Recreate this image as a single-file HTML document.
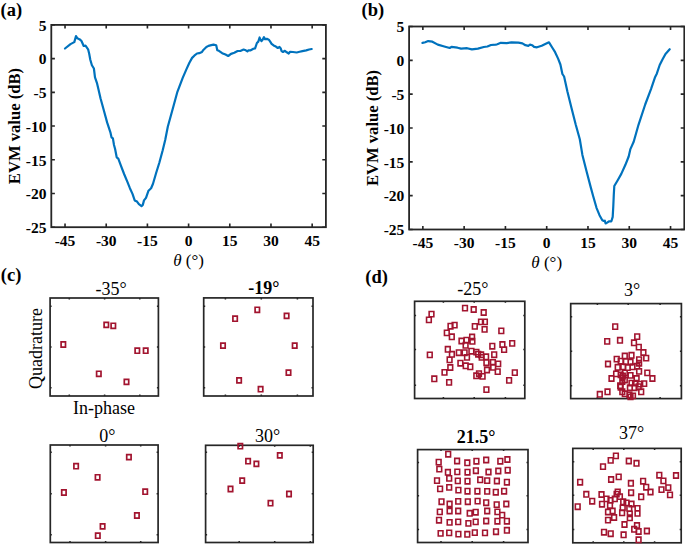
<!DOCTYPE html>
<html><head><meta charset="utf-8"><style>
html,body{margin:0;padding:0;background:#fff;}
body{width:685px;height:545px;overflow:hidden;}
svg{display:block;}
text{font-family:"Liberation Serif",serif;fill:#000;}
.tk{font-size:15.5px;font-weight:bold;}
.yl{font-size:16.6px;font-weight:bold;}
.xl{font-size:17px;}
.pl{font-size:18.5px;font-weight:bold;}
.tt{font-size:18px;}
.ttb{font-size:18px;font-weight:bold;}
</style></head><body>
<svg width="685" height="545" viewBox="0 0 685 545">
<rect x="51.3" y="24.9" width="274.60" height="202.30" fill="none" stroke="#262626" stroke-width="1.8"/><path d="M65.03 227.20v-3.6M65.03 24.90v3.6M106.22 227.20v-3.6M106.22 24.90v3.6M147.41 227.20v-3.6M147.41 24.90v3.6M188.60 227.20v-3.6M188.60 24.90v3.6M229.79 227.20v-3.6M229.79 24.90v3.6M270.98 227.20v-3.6M270.98 24.90v3.6M312.17 227.20v-3.6M312.17 24.90v3.6M51.30 227.20h3.6M325.90 227.20h-3.6M51.30 193.48h3.6M325.90 193.48h-3.6M51.30 159.77h3.6M325.90 159.77h-3.6M51.30 126.05h3.6M325.90 126.05h-3.6M51.30 92.33h3.6M325.90 92.33h-3.6M51.30 58.62h3.6M325.90 58.62h-3.6M51.30 24.90h3.6M325.90 24.90h-3.6" stroke="#262626" stroke-width="1.62" fill="none"/><text x="65.03" y="246.10" class="tk" text-anchor="middle">-45</text><text x="106.22" y="246.10" class="tk" text-anchor="middle">-30</text><text x="147.41" y="246.10" class="tk" text-anchor="middle">-15</text><text x="188.60" y="246.10" class="tk" text-anchor="middle">0</text><text x="229.79" y="246.10" class="tk" text-anchor="middle">15</text><text x="270.98" y="246.10" class="tk" text-anchor="middle">30</text><text x="312.17" y="246.10" class="tk" text-anchor="middle">45</text><text x="46.50" y="233.00" class="tk" text-anchor="end">-25</text><text x="46.50" y="199.28" class="tk" text-anchor="end">-20</text><text x="46.50" y="165.57" class="tk" text-anchor="end">-15</text><text x="46.50" y="131.85" class="tk" text-anchor="end">-10</text><text x="46.50" y="98.13" class="tk" text-anchor="end">-5</text><text x="46.50" y="64.42" class="tk" text-anchor="end">0</text><text x="46.50" y="30.70" class="tk" text-anchor="end">5</text><path d="M65.0 48.5 L70.5 44.1 L74.3 42.1 L76.0 36.1 L77.4 38.3 L79.8 39.4 L81.5 41.0 L83.7 46.0 L85.5 45.6 L88.1 49.3 L89.2 53.7 L90.3 59.7 L91.9 65.2 L93.9 68.5 L95.0 77.3 L96.9 82.8 L98.5 89.5 L100.5 98.2 L103.8 110.3 L107.1 122.4 L110.4 132.3 L111.5 137.3 L112.9 138.4 L114.0 145.0 L115.1 149.0 L116.7 157.3 L118.3 158.6 L120.9 165.7 L124.1 174.0 L127.3 181.7 L129.9 188.2 L132.5 193.9 L134.7 200.4 L137.0 201.6 L138.9 204.2 L141.5 206.1 L142.8 204.9 L144.0 200.4 L146.0 197.8 L148.5 190.7 L151.1 188.2 L153.0 183.7 L156.2 172.8 L159.4 162.5 L162.7 150.3 L165.2 140.0 L167.8 126.7 L173.1 107.5 L177.4 91.8 L182.7 77.9 L186.6 68.9 L189.4 62.8 L192.1 57.9 L194.3 55.7 L197.0 53.5 L199.2 53.2 L202.0 51.9 L203.6 49.7 L206.4 47.0 L208.5 45.9 L211.3 45.1 L213.5 44.6 L216.2 45.3 L217.3 50.3 L218.9 50.8 L222.2 53.2 L225.5 54.6 L228.2 56.0 L231.0 53.9 L234.3 52.8 L237.6 51.0 L240.3 51.0 L243.6 49.5 L245.8 50.3 L247.4 51.4 L248.5 50.3 L250.7 50.3 L253.4 48.8 L255.1 48.4 L256.9 43.0 L258.3 41.6 L259.6 37.5 L260.2 39.2 L261.5 41.1 L262.6 39.7 L264.0 37.1 L265.0 39.2 L266.9 38.8 L268.8 39.7 L270.2 41.6 L271.6 43.8 L274.0 45.7 L275.9 46.6 L277.8 48.0 L279.5 47.0 L280.6 48.2 L281.6 51.1 L283.0 52.0 L284.9 50.8 L286.8 52.3 L288.7 53.5 L290.1 51.8 L293.0 52.0 L296.7 52.5 L299.6 51.8 L302.4 51.1 L306.2 50.4 L309.1 49.5 L311.7 49.0" stroke="#0072BD" stroke-width="2.2" fill="none" stroke-linejoin="round" stroke-linecap="round"/><text class="yl" transform="translate(20.20 126.05) rotate(-90)" text-anchor="middle">EVM value (dB)</text><text class="xl" x="188.60" y="265.80" text-anchor="middle"><tspan font-style="italic">θ</tspan> (°)</text><text class="pl" x="0.5" y="16">(a)</text>
<rect x="409.1" y="26.5" width="275.20" height="203.00" fill="none" stroke="#262626" stroke-width="1.8"/><path d="M422.86 229.50v-3.6M422.86 26.50v3.6M464.14 229.50v-3.6M464.14 26.50v3.6M505.42 229.50v-3.6M505.42 26.50v3.6M546.70 229.50v-3.6M546.70 26.50v3.6M587.98 229.50v-3.6M587.98 26.50v3.6M629.26 229.50v-3.6M629.26 26.50v3.6M670.54 229.50v-3.6M670.54 26.50v3.6M409.10 229.50h3.6M684.30 229.50h-3.6M409.10 195.67h3.6M684.30 195.67h-3.6M409.10 161.83h3.6M684.30 161.83h-3.6M409.10 128.00h3.6M684.30 128.00h-3.6M409.10 94.17h3.6M684.30 94.17h-3.6M409.10 60.33h3.6M684.30 60.33h-3.6M409.10 26.50h3.6M684.30 26.50h-3.6" stroke="#262626" stroke-width="1.62" fill="none"/><text x="422.86" y="248.40" class="tk" text-anchor="middle">-45</text><text x="464.14" y="248.40" class="tk" text-anchor="middle">-30</text><text x="505.42" y="248.40" class="tk" text-anchor="middle">-15</text><text x="546.70" y="248.40" class="tk" text-anchor="middle">0</text><text x="587.98" y="248.40" class="tk" text-anchor="middle">15</text><text x="629.26" y="248.40" class="tk" text-anchor="middle">30</text><text x="670.54" y="248.40" class="tk" text-anchor="middle">45</text><text x="404.30" y="235.30" class="tk" text-anchor="end">-25</text><text x="404.30" y="201.47" class="tk" text-anchor="end">-20</text><text x="404.30" y="167.63" class="tk" text-anchor="end">-15</text><text x="404.30" y="133.80" class="tk" text-anchor="end">-10</text><text x="404.30" y="99.97" class="tk" text-anchor="end">-5</text><text x="404.30" y="66.13" class="tk" text-anchor="end">0</text><text x="404.30" y="32.30" class="tk" text-anchor="end">5</text><path d="M422.5 42.9 L425.2 42.3 L428.2 41.1 L432.4 41.7 L437.8 44.6 L444.3 46.5 L449.7 48.0 L451.5 46.8 L457.5 47.7 L461.1 48.6 L467.1 48.2 L471.9 49.4 L477.9 48.6 L483.8 47.0 L487.4 46.5 L491.0 45.0 L495.8 44.6 L497.3 44.2 L500.8 42.8 L506.7 43.1 L511.4 42.4 L518.4 42.6 L522.4 43.4 L525.4 45.2 L528.3 45.8 L530.0 44.6 L532.1 45.2 L534.1 46.9 L537.0 47.3 L541.7 45.8 L545.8 43.8 L549.0 42.3 L552.2 47.5 L555.1 52.2 L558.1 58.6 L560.4 64.5 L562.4 74.0 L564.1 76.5 L567.4 91.4 L571.5 107.9 L575.7 124.5 L579.8 139.3 L582.4 154.9 L586.6 171.4 L590.7 187.1 L593.2 196.2 L596.5 207.8 L599.5 215.2 L602.3 220.2 L603.9 221.0 L604.8 220.7 L605.6 223.5 L607.2 222.6 L608.9 221.3 L611.4 221.3 L612.7 216.9 L613.3 206.1 L613.8 194.5 L614.3 186.0 L618.0 179.7 L621.3 173.9 L625.4 164.8 L628.7 156.5 L630.4 149.1 L633.7 141.7 L638.5 124.8 L645.2 104.5 L651.0 89.1 L654.9 77.6 L656.8 73.7 L659.7 65.0 L662.6 59.3 L665.5 53.9 L669.7 49.2" stroke="#0072BD" stroke-width="2.2" fill="none" stroke-linejoin="round" stroke-linecap="round"/><text class="yl" transform="translate(378.00 128.00) rotate(-90)" text-anchor="middle">EVM value (dB)</text><text class="xl" x="546.70" y="267.80" text-anchor="middle"><tspan font-style="italic">θ</tspan> (°)</text><text class="pl" x="361.5" y="16">(b)</text>
<rect x="50.1" y="298.0" width="108.30" height="98.00" fill="none" stroke="#262626" stroke-width="1.7"/><path d="M69.30 396.00v-1.5M69.30 298.00v1.5M104.60 396.00v-1.5M104.60 298.00v1.5M139.80 396.00v-1.5M139.80 298.00v1.5M50.10 306.30h1.5M158.40 306.30h-1.5M50.10 347.10h1.5M158.40 347.10h-1.5M50.10 387.80h1.5M158.40 387.80h-1.5" stroke="#262626" stroke-width="1.53" fill="none"/>
<rect x="203.7" y="297.9" width="109.30" height="98.10" fill="none" stroke="#262626" stroke-width="1.7"/><path d="M225.40 396.00v-1.5M225.40 297.90v1.5M261.30 396.00v-1.5M261.30 297.90v1.5M297.40 396.00v-1.5M297.40 297.90v1.5M203.70 306.30h1.5M313.00 306.30h-1.5M203.70 347.10h1.5M313.00 347.10h-1.5M203.70 387.80h1.5M313.00 387.80h-1.5" stroke="#262626" stroke-width="1.53" fill="none"/>
<rect x="50.3" y="445.0" width="107.80" height="97.50" fill="none" stroke="#262626" stroke-width="1.7"/><path d="M70.00 542.50v-1.5M70.00 445.00v1.5M105.60 542.50v-1.5M105.60 445.00v1.5M140.70 542.50v-1.5M140.70 445.00v1.5M50.30 452.30h1.5M158.10 452.30h-1.5M50.30 493.70h1.5M158.10 493.70h-1.5M50.30 534.80h1.5M158.10 534.80h-1.5" stroke="#262626" stroke-width="1.53" fill="none"/>
<rect x="205.6" y="445.3" width="107.60" height="97.20" fill="none" stroke="#262626" stroke-width="1.7"/><path d="M239.20 542.50v-1.5M239.20 445.30v1.5M274.70 542.50v-1.5M274.70 445.30v1.5M310.30 542.50v-1.5M310.30 445.30v1.5M205.60 452.30h1.5M313.20 452.30h-1.5M205.60 493.70h1.5M313.20 493.70h-1.5M205.60 534.80h1.5M313.20 534.80h-1.5" stroke="#262626" stroke-width="1.53" fill="none"/>
<rect x="414.6" y="301.3" width="110.20" height="97.20" fill="none" stroke="#262626" stroke-width="1.7"/><path d="M443.40 398.50v-1.5M443.40 301.30v1.5M474.20 398.50v-1.5M474.20 301.30v1.5M505.40 398.50v-1.5M505.40 301.30v1.5M414.60 315.50h1.5M524.80 315.50h-1.5M414.60 349.50h1.5M524.80 349.50h-1.5M414.60 385.20h1.5M524.80 385.20h-1.5" stroke="#262626" stroke-width="1.53" fill="none"/>
<rect x="570.7" y="303.6" width="110.70" height="95.00" fill="none" stroke="#262626" stroke-width="1.7"/><path d="M597.40 398.60v-1.5M597.40 303.60v1.5M628.20 398.60v-1.5M628.20 303.60v1.5M660.10 398.60v-1.5M660.10 303.60v1.5M570.70 316.80h1.5M681.40 316.80h-1.5M570.70 351.20h1.5M681.40 351.20h-1.5M570.70 385.70h1.5M681.40 385.70h-1.5" stroke="#262626" stroke-width="1.53" fill="none"/>
<rect x="417.6" y="449.6" width="110.40" height="92.90" fill="none" stroke="#262626" stroke-width="1.7"/><path d="M441.00 542.50v-1.5M441.00 449.60v1.5M472.20 542.50v-1.5M472.20 449.60v1.5M503.60 542.50v-1.5M503.60 449.60v1.5M417.60 462.40h1.5M528.00 462.40h-1.5M417.60 495.70h1.5M528.00 495.70h-1.5M417.60 529.60h1.5M528.00 529.60h-1.5" stroke="#262626" stroke-width="1.53" fill="none"/>
<rect x="572.8" y="448.4" width="108.40" height="94.40" fill="none" stroke="#262626" stroke-width="1.7"/><path d="M593.20 542.80v-1.5M593.20 448.40v1.5M623.80 542.80v-1.5M623.80 448.40v1.5M654.60 542.80v-1.5M654.60 448.40v1.5M572.80 461.80h1.5M681.20 461.80h-1.5M572.80 495.20h1.5M681.20 495.20h-1.5M572.80 529.60h1.5M681.20 529.60h-1.5" stroke="#262626" stroke-width="1.53" fill="none"/>
<path d="M104.10 322.35h4.4v5.1h-4.4zM111.10 323.25h4.4v5.1h-4.4zM61.10 341.95h4.4v5.1h-4.4zM135.10 348.15h4.4v5.1h-4.4zM143.50 348.15h4.4v5.1h-4.4zM96.60 371.25h4.4v5.1h-4.4zM124.30 379.35h4.4v5.1h-4.4z" fill="none" stroke="#A2142F" stroke-width="1.7"/>
<path d="M255.10 307.25h4.4v5.1h-4.4zM232.90 316.15h4.4v5.1h-4.4zM284.40 313.35h4.4v5.1h-4.4zM220.80 343.05h4.4v5.1h-4.4zM292.50 343.05h4.4v5.1h-4.4zM286.30 370.05h4.4v5.1h-4.4zM236.90 377.85h4.4v5.1h-4.4zM258.40 386.65h4.4v5.1h-4.4z" fill="none" stroke="#A2142F" stroke-width="1.7"/>
<path d="M126.70 454.55h4.4v5.1h-4.4zM73.90 463.65h4.4v5.1h-4.4zM95.40 474.75h4.4v5.1h-4.4zM61.70 489.95h4.4v5.1h-4.4zM143.00 489.15h4.4v5.1h-4.4zM134.70 512.95h4.4v5.1h-4.4zM100.40 523.85h4.4v5.1h-4.4zM95.60 533.15h4.4v5.1h-4.4z" fill="none" stroke="#A2142F" stroke-width="1.7"/>
<path d="M238.10 443.65h4.4v5.1h-4.4zM277.60 452.85h4.4v5.1h-4.4zM245.90 458.65h4.4v5.1h-4.4zM254.20 461.35h4.4v5.1h-4.4zM240.00 478.05h4.4v5.1h-4.4zM228.30 486.45h4.4v5.1h-4.4zM286.80 491.45h4.4v5.1h-4.4zM268.30 500.65h4.4v5.1h-4.4z" fill="none" stroke="#A2142F" stroke-width="1.7"/>
<path d="M462.65 305.45h4.7v5.3h-4.7zM429.15 311.45h4.7v5.3h-4.7zM426.55 317.25h4.7v5.3h-4.7zM448.15 323.55h4.7v5.3h-4.7zM452.25 322.45h4.7v5.3h-4.7zM444.45 330.25h4.7v5.3h-4.7zM449.45 334.15h4.7v5.3h-4.7zM459.15 338.35h4.7v5.3h-4.7zM464.15 337.55h4.7v5.3h-4.7zM463.25 342.65h4.7v5.3h-4.7zM471.35 306.85h4.7v5.3h-4.7zM481.35 309.85h4.7v5.3h-4.7zM478.65 319.25h4.7v5.3h-4.7zM482.55 319.25h4.7v5.3h-4.7zM472.45 323.75h4.7v5.3h-4.7zM482.25 326.75h4.7v5.3h-4.7zM498.95 328.25h4.7v5.3h-4.7zM469.75 334.35h4.7v5.3h-4.7zM470.05 338.65h4.7v5.3h-4.7zM489.95 343.55h4.7v5.3h-4.7zM500.05 341.85h4.7v5.3h-4.7zM509.85 340.75h4.7v5.3h-4.7zM501.75 346.95h4.7v5.3h-4.7zM427.45 352.25h4.7v5.3h-4.7zM445.45 346.65h4.7v5.3h-4.7zM449.55 351.65h4.7v5.3h-4.7zM447.25 357.15h4.7v5.3h-4.7zM447.95 364.85h4.7v5.3h-4.7zM442.15 369.75h4.7v5.3h-4.7zM431.95 376.15h4.7v5.3h-4.7zM446.75 379.75h4.7v5.3h-4.7zM456.45 350.05h4.7v5.3h-4.7zM462.25 350.05h4.7v5.3h-4.7zM464.65 354.75h4.7v5.3h-4.7zM458.05 360.55h4.7v5.3h-4.7zM463.35 363.15h4.7v5.3h-4.7zM469.05 348.55h4.7v5.3h-4.7zM474.05 349.45h4.7v5.3h-4.7zM475.85 351.55h4.7v5.3h-4.7zM478.75 352.15h4.7v5.3h-4.7zM479.35 354.75h4.7v5.3h-4.7zM483.75 354.15h4.7v5.3h-4.7zM491.85 352.05h4.7v5.3h-4.7zM484.05 360.05h4.7v5.3h-4.7zM490.55 359.75h4.7v5.3h-4.7zM495.85 361.25h4.7v5.3h-4.7zM490.85 364.65h4.7v5.3h-4.7zM484.65 367.35h4.7v5.3h-4.7zM495.35 368.95h4.7v5.3h-4.7zM467.95 364.15h4.7v5.3h-4.7zM473.95 373.15h4.7v5.3h-4.7zM476.65 371.05h4.7v5.3h-4.7zM480.25 373.75h4.7v5.3h-4.7zM512.45 369.95h4.7v5.3h-4.7zM506.75 377.75h4.7v5.3h-4.7zM484.05 386.95h4.7v5.3h-4.7z" fill="none" stroke="#A2142F" stroke-width="1.6"/>
<path d="M612.85 323.95h4.7v5.3h-4.7zM604.85 338.75h4.7v5.3h-4.7zM617.65 337.65h4.7v5.3h-4.7zM634.85 333.95h4.7v5.3h-4.7zM631.65 340.15h4.7v5.3h-4.7zM636.45 344.45h4.7v5.3h-4.7zM641.05 349.85h4.7v5.3h-4.7zM643.85 355.45h4.7v5.3h-4.7zM605.65 361.35h4.7v5.3h-4.7zM614.35 356.45h4.7v5.3h-4.7zM622.45 353.35h4.7v5.3h-4.7zM629.15 352.65h4.7v5.3h-4.7zM618.35 358.45h4.7v5.3h-4.7zM623.55 359.05h4.7v5.3h-4.7zM628.15 359.55h4.7v5.3h-4.7zM636.75 356.95h4.7v5.3h-4.7zM636.75 360.55h4.7v5.3h-4.7zM615.35 364.65h4.7v5.3h-4.7zM620.95 364.15h4.7v5.3h-4.7zM625.35 364.95h4.7v5.3h-4.7zM630.15 364.15h4.7v5.3h-4.7zM634.75 363.65h4.7v5.3h-4.7zM636.75 368.75h4.7v5.3h-4.7zM644.95 370.25h4.7v5.3h-4.7zM650.05 375.85h4.7v5.3h-4.7zM613.75 371.25h4.7v5.3h-4.7zM618.35 372.25h4.7v5.3h-4.7zM622.45 370.25h4.7v5.3h-4.7zM628.15 372.75h4.7v5.3h-4.7zM609.15 375.85h4.7v5.3h-4.7zM619.95 375.35h4.7v5.3h-4.7zM622.45 377.35h4.7v5.3h-4.7zM619.95 378.95h4.7v5.3h-4.7zM634.25 375.85h4.7v5.3h-4.7zM629.15 380.45h4.7v5.3h-4.7zM632.75 380.45h4.7v5.3h-4.7zM637.85 381.45h4.7v5.3h-4.7zM641.85 380.95h4.7v5.3h-4.7zM618.35 384.55h4.7v5.3h-4.7zM627.55 385.05h4.7v5.3h-4.7zM632.15 385.05h4.7v5.3h-4.7zM636.25 384.05h4.7v5.3h-4.7zM638.85 389.15h4.7v5.3h-4.7zM619.95 389.15h4.7v5.3h-4.7zM622.45 391.15h4.7v5.3h-4.7zM627.05 392.25h4.7v5.3h-4.7zM630.65 393.25h4.7v5.3h-4.7zM628.15 394.25h4.7v5.3h-4.7zM605.15 389.15h4.7v5.3h-4.7zM597.45 391.65h4.7v5.3h-4.7zM620.45 373.35h4.7v5.3h-4.7zM617.85 383.05h4.7v5.3h-4.7z" fill="none" stroke="#A2142F" stroke-width="1.6"/>
<path d="M445.85 451.55h4.7v5.3h-4.7zM436.35 459.45h4.7v5.3h-4.7zM454.75 458.35h4.7v5.3h-4.7zM464.95 460.15h4.7v5.3h-4.7zM474.05 458.55h4.7v5.3h-4.7zM483.85 457.35h4.7v5.3h-4.7zM497.95 458.55h4.7v5.3h-4.7zM505.05 456.85h4.7v5.3h-4.7zM436.95 466.45h4.7v5.3h-4.7zM445.55 469.65h4.7v5.3h-4.7zM454.95 469.25h4.7v5.3h-4.7zM465.15 469.55h4.7v5.3h-4.7zM473.55 468.05h4.7v5.3h-4.7zM486.15 469.35h4.7v5.3h-4.7zM495.95 468.35h4.7v5.3h-4.7zM505.35 467.55h4.7v5.3h-4.7zM434.65 477.95h4.7v5.3h-4.7zM446.85 475.75h4.7v5.3h-4.7zM455.45 478.25h4.7v5.3h-4.7zM465.15 478.55h4.7v5.3h-4.7zM477.85 477.15h4.7v5.3h-4.7zM484.85 477.95h4.7v5.3h-4.7zM494.55 478.35h4.7v5.3h-4.7zM504.55 479.55h4.7v5.3h-4.7zM437.75 486.25h4.7v5.3h-4.7zM446.85 484.75h4.7v5.3h-4.7zM456.05 487.45h4.7v5.3h-4.7zM465.15 488.55h4.7v5.3h-4.7zM475.05 488.55h4.7v5.3h-4.7zM484.85 488.75h4.7v5.3h-4.7zM493.45 489.55h4.7v5.3h-4.7zM501.75 488.55h4.7v5.3h-4.7zM439.15 499.05h4.7v5.3h-4.7zM447.25 501.35h4.7v5.3h-4.7zM455.85 498.75h4.7v5.3h-4.7zM465.45 499.05h4.7v5.3h-4.7zM475.25 498.45h4.7v5.3h-4.7zM483.85 500.05h4.7v5.3h-4.7zM494.35 501.95h4.7v5.3h-4.7zM503.95 501.35h4.7v5.3h-4.7zM437.45 509.25h4.7v5.3h-4.7zM447.25 508.35h4.7v5.3h-4.7zM455.85 508.35h4.7v5.3h-4.7zM467.35 510.65h4.7v5.3h-4.7zM473.35 509.55h4.7v5.3h-4.7zM484.85 508.35h4.7v5.3h-4.7zM495.05 509.25h4.7v5.3h-4.7zM499.85 512.45h4.7v5.3h-4.7zM436.65 517.55h4.7v5.3h-4.7zM447.25 519.75h4.7v5.3h-4.7zM455.85 519.25h4.7v5.3h-4.7zM466.05 520.75h4.7v5.3h-4.7zM473.35 519.25h4.7v5.3h-4.7zM483.85 518.35h4.7v5.3h-4.7zM495.05 518.55h4.7v5.3h-4.7zM504.55 518.55h4.7v5.3h-4.7zM438.25 530.75h4.7v5.3h-4.7zM446.85 530.25h4.7v5.3h-4.7zM456.05 531.45h4.7v5.3h-4.7zM464.95 531.65h4.7v5.3h-4.7zM472.45 529.95h4.7v5.3h-4.7zM482.65 530.25h4.7v5.3h-4.7zM493.65 529.05h4.7v5.3h-4.7zM504.55 527.65h4.7v5.3h-4.7z" fill="none" stroke="#A2142F" stroke-width="1.6"/>
<path d="M613.55 453.25h4.7v5.3h-4.7zM608.35 457.75h4.7v5.3h-4.7zM600.65 463.95h4.7v5.3h-4.7zM626.45 458.35h4.7v5.3h-4.7zM634.15 460.65h4.7v5.3h-4.7zM616.35 474.25h4.7v5.3h-4.7zM608.75 476.85h4.7v5.3h-4.7zM577.75 479.55h4.7v5.3h-4.7zM628.55 480.65h4.7v5.3h-4.7zM656.95 472.55h4.7v5.3h-4.7zM661.05 478.25h4.7v5.3h-4.7zM673.65 472.85h4.7v5.3h-4.7zM640.75 478.55h4.7v5.3h-4.7zM643.85 484.55h4.7v5.3h-4.7zM648.15 489.35h4.7v5.3h-4.7zM659.15 486.95h4.7v5.3h-4.7zM665.95 484.95h4.7v5.3h-4.7zM667.65 492.25h4.7v5.3h-4.7zM628.75 490.05h4.7v5.3h-4.7zM638.85 494.15h4.7v5.3h-4.7zM583.95 491.65h4.7v5.3h-4.7zM599.15 491.85h4.7v5.3h-4.7zM589.85 498.55h4.7v5.3h-4.7zM575.35 504.05h4.7v5.3h-4.7zM604.15 496.25h4.7v5.3h-4.7zM608.15 497.75h4.7v5.3h-4.7zM599.65 501.55h4.7v5.3h-4.7zM607.65 502.75h4.7v5.3h-4.7zM612.45 496.25h4.7v5.3h-4.7zM615.35 489.25h4.7v5.3h-4.7zM614.25 491.45h4.7v5.3h-4.7zM617.55 493.95h4.7v5.3h-4.7zM620.85 499.15h4.7v5.3h-4.7zM624.15 500.25h4.7v5.3h-4.7zM629.15 501.35h4.7v5.3h-4.7zM620.35 505.25h4.7v5.3h-4.7zM626.95 505.75h4.7v5.3h-4.7zM635.15 505.75h4.7v5.3h-4.7zM605.65 509.35h4.7v5.3h-4.7zM610.25 508.35h4.7v5.3h-4.7zM619.75 510.15h4.7v5.3h-4.7zM627.45 511.25h4.7v5.3h-4.7zM635.15 510.75h4.7v5.3h-4.7zM611.75 514.85h4.7v5.3h-4.7zM605.65 517.45h4.7v5.3h-4.7zM627.45 515.15h4.7v5.3h-4.7zM622.15 521.85h4.7v5.3h-4.7zM634.65 522.85h4.7v5.3h-4.7zM631.85 526.65h4.7v5.3h-4.7zM636.25 528.85h4.7v5.3h-4.7zM644.55 528.35h4.7v5.3h-4.7zM601.65 529.55h4.7v5.3h-4.7zM608.35 531.05h4.7v5.3h-4.7zM621.25 532.15h4.7v5.3h-4.7zM636.25 537.15h4.7v5.3h-4.7z" fill="none" stroke="#A2142F" stroke-width="1.6"/>
<text class="tt" x="95.5" y="295.0">-35°</text>
<text class="ttb" x="248.3" y="294.3">-19°</text>
<text class="tt" x="99.3" y="441.6">0°</text>
<text class="tt" x="255.0" y="441.9">30°</text>
<text class="tt" x="457.2" y="294.5">-25°</text>
<text class="tt" x="624.1" y="296.0">3°</text>
<text class="ttb" x="456.8" y="443.0">21.5°</text>
<text class="tt" x="619.1" y="439.3">37°</text>
<text class="tt" transform="translate(42.3 348.5) rotate(-90)" text-anchor="middle">Quadrature</text>
<text class="tt" x="104" y="414.3" text-anchor="middle">In-phase</text>
<text class="pl" x="0.8" y="281">(c)</text>
<text class="pl" x="365.3" y="282.5">(d)</text>
</svg>
</body></html>
